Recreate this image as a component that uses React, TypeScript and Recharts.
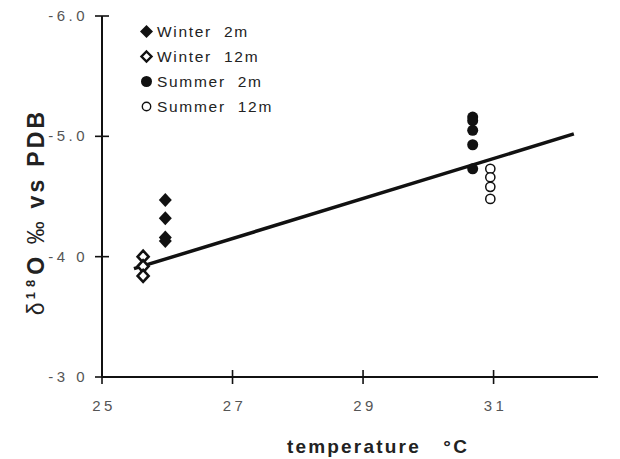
import { ComposedChart, Scatter, XAxis, YAxis } from 'recharts';

// temperature (°C) and δ18O (‰ vs PDB)
const winter2mTemp = [25.97, 25.97, 25.97, 25.97];
const winter2mO18 = [-4.47, -4.32, -4.16, -4.13];
const winter12mTemp = [25.63, 25.63, 25.63];
const winter12mO18 = [-4.0, -3.92, -3.84];
const summer2mTemp = [30.68, 30.68, 30.68, 30.68, 30.68];
const summer2mO18 = [-5.16, -5.13, -5.05, -4.93, -4.73];
const summer12mTemp = [30.95, 30.95, 30.95, 30.95];
const summer12mO18 = [-4.73, -4.66, -4.58, -4.48];
const fitTemp = [25.49, 32.23];
const fitO18 = [-3.9, -5.02];

const xTicks = [25, 27, 29, 31];
const yTicks = [-6, -5, -4, -3];
const yTickLabels: Record<string, string> = { '-6': '-6.0', '-5': '-5.0', '-4': '-4 0', '-3': '-3 0' };

const zip = (t: number[], v: number[]) => t.map((x, i) => ({ t: x, v: v[i] }));

const FONT = '"Liberation Sans", Arial, sans-serif';

const FilledDiamond = ({ cx, cy }: any) => (
    <polygon points={`${cx},${cy - 7} ${cx + 6.5},${cy} ${cx},${cy + 7} ${cx - 6.5},${cy}`} fill="#111" />
);
const OpenDiamond = ({ cx, cy }: any) => (
    <polygon points={`${cx},${cy - 6} ${cx + 5.5},${cy} ${cx},${cy + 6} ${cx - 5.5},${cy}`} fill="#fff" stroke="#111" strokeWidth={2.6} />
);
const FilledCircle = ({ cx, cy }: any) => <circle cx={cx} cy={cy} r={5.5} fill="#111" />;
const OpenCircle = ({ cx, cy }: any) => <circle cx={cx} cy={cy} r={4.6} fill="#fff" stroke="#111" strokeWidth={1.5} />;
const NoShape = () => <g />;

const YTick = ({ x, y, payload }: any) => (
    <g>
        <line x1={x + 7} x2={x + 21} y1={y} y2={y} stroke="#111" strokeWidth={1.6} />
        <text x={x} y={y + 5} textAnchor="end" fill="#555" fontSize={15} fontFamily={FONT} letterSpacing={3.5}>
            {yTickLabels[String(payload.value)]}
        </text>
    </g>
);

const XTick = ({ x, y, payload }: any) => (
    <g>
        <line x1={x} x2={x} y1={y - 27} y2={y - 13} stroke="#111" strokeWidth={1.6} />
        <text x={x + 2} y={y + 14} textAnchor="middle" fill="#555" fontSize={15} fontFamily={FONT} letterSpacing={3.5}>
            {payload.value}
        </text>
    </g>
);

const legendRows = [
    { label: 'Winter  2m', icon: 'fd' },
    { label: 'Winter  12m', icon: 'od' },
    { label: 'Summer  2m', icon: 'fc' },
    { label: 'Summer  12m', icon: 'oc' },
];

function LegendIcon({ kind }: { kind: string }) {
    return (
        <svg width={15} height={15} style={{ marginRight: 3 }}>
            {kind === 'fd' && <polygon points="7.5,1 14,7.5 7.5,14 1,7.5" fill="#111" />}
            {kind === 'od' && <polygon points="7.5,2.5 12.5,7.5 7.5,12.5 2.5,7.5" fill="#fff" stroke="#111" strokeWidth={2.4} />}
            {kind === 'fc' && <circle cx={7.5} cy={7.5} r={5.5} fill="#111" />}
            {kind === 'oc' && <circle cx={7.5} cy={7.5} r={4.2} fill="#fff" stroke="#111" strokeWidth={1.4} />}
        </svg>
    );
}

export default function App() {
    return (
        <div style={{ position: 'absolute', left: 0, top: 0, width: 620, height: 459, background: '#fff' }}>
            <ComposedChart width={620} height={459} margin={{ top: 16, right: 22, bottom: 32, left: 42 }}>
                <XAxis
                    type="number"
                    dataKey="t"
                    domain={[25, 32.6]}
                    ticks={xTicks}
                    tick={<XTick />}
                    tickSize={0}
                    tickMargin={20}
                    height={50}
                    axisLine={{ stroke: '#111', strokeWidth: 2 }}
                    tickLine={false}
                    allowDataOverflow
                />
                <YAxis
                    type="number"
                    dataKey="v"
                    domain={[-6, -3]}
                    reversed
                    ticks={yTicks}
                    tick={<YTick />}
                    tickSize={0}
                    tickMargin={14}
                    width={60}
                    axisLine={{ stroke: '#111', strokeWidth: 2 }}
                    tickLine={false}
                />
                <Scatter data={zip(fitTemp, fitO18)} line={{ stroke: '#111', strokeWidth: 3.5 }} shape={<NoShape />} isAnimationActive={false} />
                <Scatter data={zip(summer12mTemp, summer12mO18)} shape={<OpenCircle />} isAnimationActive={false} />
                <Scatter data={zip(summer2mTemp, summer2mO18)} shape={<FilledCircle />} isAnimationActive={false} />
                <Scatter data={zip(winter12mTemp, winter12mO18)} shape={<OpenDiamond />} isAnimationActive={false} />
                <Scatter data={zip(winter2mTemp, winter2mO18)} shape={<FilledDiamond />} isAnimationActive={false} />
                <text transform="rotate(-90, 44, 212)" x={44} y={212} textAnchor="middle" fontFamily={FONT} fontSize={23} fontWeight="bold" fill="#222" letterSpacing={3.2} style={{ whiteSpace: 'pre' }}>
                    <tspan fontWeight="normal">δ</tspan>
                    <tspan dy={-9} fontSize={13} letterSpacing={5}>18</tspan>
                    <tspan dy={9}>O </tspan>
                    <tspan fontWeight="normal">‰</tspan>
                    <tspan>{' vs PDB'}</tspan>
                </text>
                <text x={378} y={453} textAnchor="middle" fontFamily={FONT} fontSize={19} fontWeight="bold" fill="#222" letterSpacing={2.2} style={{ whiteSpace: 'pre' }}>
                    {'temperature   °C'}
                </text>
            </ComposedChart>
            <div style={{ position: 'absolute', left: 139, top: 19, fontFamily: FONT, fontSize: 15.5, color: '#222', letterSpacing: 1.7 }}>
                {legendRows.map(r => (
                    <div key={r.label} style={{ display: 'flex', alignItems: 'center', height: 25, whiteSpace: 'pre' }}>
                        <LegendIcon kind={r.icon} />
                        {r.label}
                    </div>
                ))}
            </div>
        </div>
    );
}
